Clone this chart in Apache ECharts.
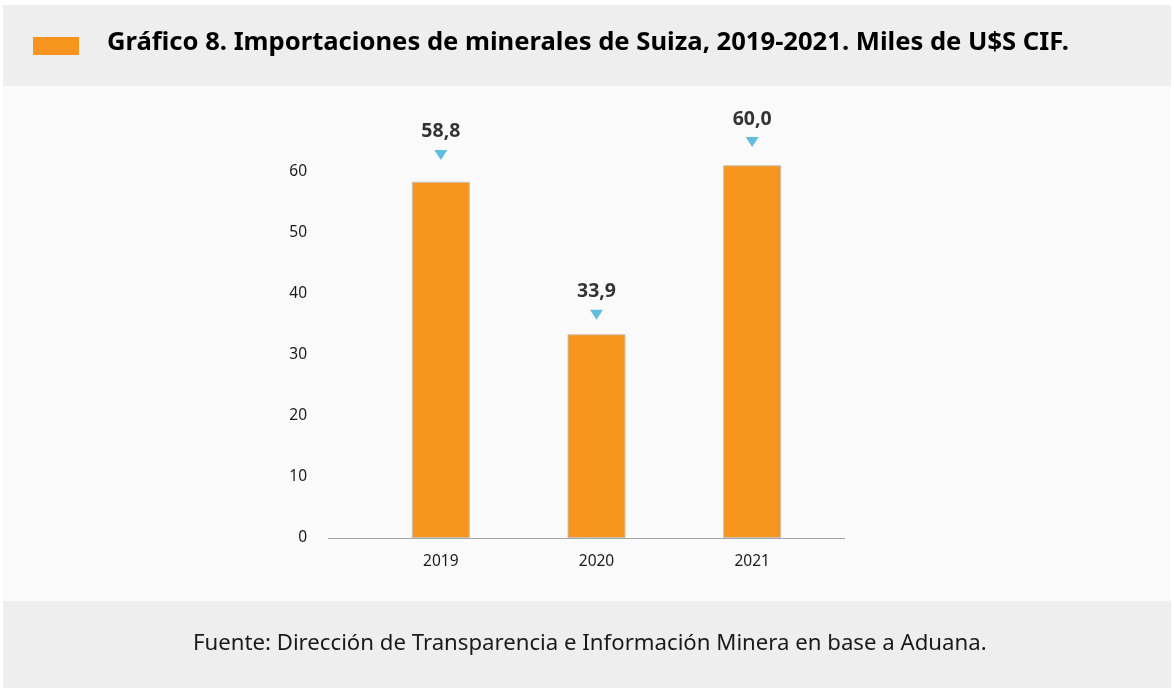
<!DOCTYPE html>
<html><head><meta charset="utf-8">
<script src="https://cdn.jsdelivr.net/npm/echarts@6/dist/echarts.min.js"></script>
<style>html,body{margin:0;padding:0;background:#fff}#c{width:1174px;height:688px}</style>
</head><body><div id="c"></div>
<script>
const categories = ['2019', '2020', '2021'];
const barValues = [58.4, 33.4, 61.1];
const markerValues = [62.8, 36.6, 64.9];
const labelTexts = ['58,8', '33,9', '60,0'];
const yTicks = [0, 10, 20, 30, 40, 50, 60];

const chart = echarts.init(document.getElementById('c'), null, {renderer: 'canvas'});
chart.setOption({
  backgroundColor: '#ffffff',
  animation: false,
  graphic: [
    {type: 'rect', shape: {x: 3, y: 5, width: 1168, height: 81}, style: {fill: '#eeeeee'}, z: -10},
    {type: 'rect', shape: {x: 3, y: 86, width: 1168, height: 515}, style: {fill: '#fafafa'}, z: -10},
    {type: 'rect', shape: {x: 3, y: 601, width: 1168, height: 87}, style: {fill: '#eeeeee'}, z: -10},
    {type: 'rect', shape: {x: 33, y: 37, width: 46, height: 18}, style: {fill: '#f7941d'}},
    {type: 'line', shape: {x1: 328, y1: 538.5, x2: 845, y2: 538.5}, style: {stroke: '#a6a6a6', lineWidth: 1}},
    {type: 'text', left: 107, top: 30, style: {text: 'Gráfico 8. Importaciones de minerales de Suiza, 2019-2021. Miles de U$S CIF.', font: 'bold 25.6px "Noto Sans"', fill: '#000000'}},
    {type: 'text', left: 193, top: 633, style: {text: 'Fuente: Dirección de Transparencia e Información Minera en base a Aduana.', font: '22.2px "Noto Sans"', fill: '#1a1a1a'}}
  ],
  grid: {left: 363, right: 344, top: 111, bottom: 150},
  xAxis: {
    type: 'category', data: categories,
    axisLine: {show: false}, axisTick: {show: false},
    axisLabel: {color: '#1a1a1a', fontSize: 15.5, fontFamily: 'Noto Sans', margin: 16}
  },
  yAxis: {
    type: 'value', min: 0, max: 70, interval: 10,
    splitLine: {show: false}, axisLine: {show: false}, axisTick: {show: false},
    axisLabel: {color: '#1a1a1a', fontSize: 15.5, fontFamily: 'Noto Sans', margin: 56, padding: [3, 0, 0, 0],
      formatter: v => yTicks.includes(v) ? String(v) : ''}
  },
  series: [
    {type: 'bar', data: barValues, barWidth: 58,
      itemStyle: {color: '#f7941d', borderColor: '#c9c0b6', borderWidth: 1}},
    {type: 'scatter', data: markerValues, clip: false, symbol: 'triangle', symbolRotate: 180,
      symbolSize: [13, 10], itemStyle: {color: '#3aaed8'},
      label: {show: true, position: 'top', distance: 8, formatter: p => labelTexts[p.dataIndex],
        color: '#000000', textBorderWidth: 0, fontSize: 19.5, fontWeight: 'bold', fontFamily: 'Noto Sans'}}
  ]
});
</script></body></html>
